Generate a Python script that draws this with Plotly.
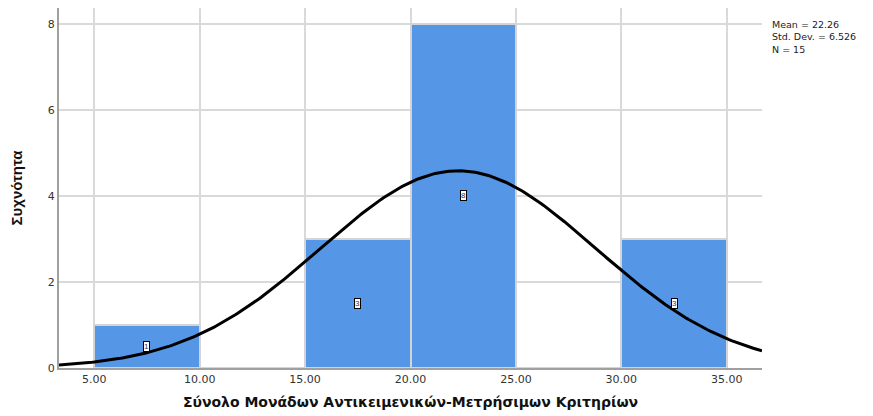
import numpy as np
import plotly.graph_objects as go

# ── Data ─────────────────────────────────────────────────────────────────────
bin_starts = [5, 10, 15, 20, 25, 30]
counts = [1, 0, 3, 8, 0, 3]
bin_width = 5
mean_val = 22.26
std_dev = 6.526
n_obs = 15
x_ticks = [5, 10, 15, 20, 25, 30, 35]
y_ticks = [0, 2, 4, 6, 8]

BAR_COLOR = '#5596e6'
x_range = [3.33, 36.67]

centers = [b + bin_width / 2 for b in bin_starts]

fig = go.Figure()

fig.add_trace(go.Bar(
    x=centers, y=counts, width=bin_width,
    marker=dict(color=BAR_COLOR, line=dict(color='#d4d4d4', width=2)),
    showlegend=False, hoverinfo='skip',
))

# normal curve from the reported mean / sd, scaled to counts
xs = np.linspace(x_range[0], x_range[1], 300)
ys = n_obs * bin_width / (std_dev * np.sqrt(2 * np.pi)) * np.exp(-0.5 * ((xs - mean_val) / std_dev) ** 2)
fig.add_trace(go.Scatter(
    x=xs, y=ys, mode='lines',
    line=dict(color='black', width=3),
    showlegend=False, hoverinfo='skip',
))

# count labels in the middle of each non-empty bar
for c, n in zip(centers, counts):
    if n == 0:
        continue
    fig.add_annotation(
        x=c, y=n / 2, text=str(n), showarrow=False,
        font=dict(size=8, color='#333333', family='Arial, Liberation Sans'),
        bgcolor='white', bordercolor='black', borderwidth=1, borderpad=0,
    )

# stats box top-right
fig.add_annotation(
    xref='paper', yref='paper', x=1.012, y=0.975, xanchor='left', yanchor='top',
    text=f'Mean = {mean_val}<br>Std. Dev. = {std_dev}<br>N = {n_obs}',
    showarrow=False, align='left',
    font=dict(size=9.5, color='#222222', family='DejaVu Sans'),
)

fig.update_layout(
    width=865, height=408,
    margin=dict(l=51, r=111, t=0, b=48),
    plot_bgcolor='white', paper_bgcolor='white',
    bargap=0,
    font=dict(family='DejaVu Sans', color='#333333'),
    xaxis=dict(
        range=x_range, tickvals=x_ticks,
        ticktext=[f'{v:.2f}' for v in x_ticks],
        showgrid=True, gridcolor='#d9d9d9', gridwidth=1.5,
        showline=True, linecolor='#a0a0a0', linewidth=2,
        ticks='', tickfont=dict(size=11, color='#333333'),
        zeroline=False,
        title=dict(text='<b>Σύνολο Μονάδων Αντικειμενικών-Μετρήσιμων Κριτηρίων</b>',
                   font=dict(size=14, color='#111111', family='DejaVu Sans'), standoff=12),
    ),
    yaxis=dict(
        range=[0, 8.37], tickvals=y_ticks,
        showgrid=True, gridcolor='#d9d9d9', gridwidth=1.5,
        showline=True, linecolor='#a0a0a0', linewidth=2,
        ticks='', tickfont=dict(size=11, color='#333333'),
        zeroline=False,
        title=dict(text='<b>Συχνότητα</b>',
                   font=dict(size=15, color='#111111', family='Liberation Sans Narrow, Arial Narrow, Arial'),
                   standoff=22),
    ),
)

fig.write_html("out.html")
